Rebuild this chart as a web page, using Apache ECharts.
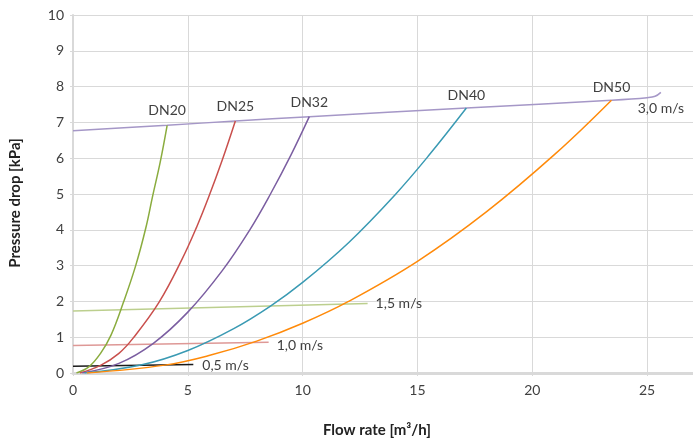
<!DOCTYPE html>
<html><head><meta charset="utf-8">
<script src="https://cdn.jsdelivr.net/npm/echarts@6/dist/echarts.min.js"></script>
<style>html,body{margin:0;padding:0;background:#fff}#c{width:693px;height:443px}</style>
</head><body><div id="c"></div>
<script>
// Pipe curves [flow m3/h, pressure drop kPa]
const dn20 = [[0.15,0],[0.7,0.18],[1.2,0.55],[1.65,1.05],[2.2,1.98],[2.73,3.0],[3.17,4.05],[3.47,4.95],[3.8,5.9],[4.1,6.92]];
const dn25 = [[0.3,0],[1.22,0.22],[2.0,0.55],[2.6,0.96],[3.75,1.98],[4.75,3.18],[5.4,4.1],[5.9,4.9],[6.5,5.95],[7.07,7.04]];
const dn32 = [[0.4,0],[2.0,0.27],[3.5,0.83],[5.0,1.7],[6.5,2.86],[7.7,4.0],[8.6,5.0],[9.5,6.1],[10.29,7.16]];
const dn40 = [[0.5,0],[3.0,0.23],[5.0,0.63],[7.0,1.24],[8.6,1.87],[10.0,2.53],[12.0,3.64],[14.0,4.96],[15.5,6.08],[17.13,7.4]];
const dn50 = [[0.6,0],[4.0,0.22],[6.0,0.5],[8.0,0.89],[10.0,1.39],[12.0,2.0],[15.0,3.12],[18.0,4.5],[21.0,6.12],[23.45,7.62]];
// Velocity lines
const v30 = [[0,6.77],[4.1,6.92],[7.07,7.04],[10.29,7.16],[17.13,7.4],[23.45,7.62],[25.0,7.69],[25.35,7.73],[25.6,7.84]];
const v15 = [[0,1.73],[12.83,1.94]];
const v10 = [[0,0.77],[8.52,0.86]];
const v05 = [[0,0.19],[5.24,0.24]];
const pipeNames = ['DN20','DN25','DN32','DN40','DN50'];
const velNames = ['3,0 m/s','1,5 m/s','1,0 m/s','0,5 m/s'];
const xTicks = [0,5,10,15,20,25];
const yTicks = [0,1,2,3,4,5,6,7,8,9,10];

const FONT = 'Lato';
const TXT = '#404040';
const GRID = '#d9d9d9';

function withLabel(arr, text, lbl){
  return arr.map((p,i)=> i===arr.length-1
    ? {value:p, label:Object.assign({show:true, formatter:text, color:TXT, fontFamily:FONT, fontSize:14}, lbl)}
    : {value:p});
}
function ser(arr, color, text, lbl, z){
  return {type:'line', data:withLabel(arr,text,lbl), smooth:0.4, symbol:'circle', symbolSize:0, showSymbol:true,
    lineStyle:{color:color, width:1.5}, itemStyle:{color:color}, z:z||2, silent:true, animation:false};
}
const series = [
  ser(v30,'#a597c7',velNames[0],{position:'bottom',distance:9},1),
  ser(v15,'#bccf8e',velNames[1],{position:'right',distance:8},1),
  ser(v10,'#de9896',velNames[2],{position:'right',distance:8,offset:[0,3]},1),
  ser(v05,'#1a1a1a',velNames[3],{position:'right',distance:9,offset:[0,1]},1),
  ser(dn20,'#8aac3e',pipeNames[0],{position:'top',distance:8}),
  ser(dn25,'#c9504d',pipeNames[1],{position:'top',distance:7}),
  ser(dn32,'#7b5ea1',pipeNames[2],{position:'top',distance:7}),
  ser(dn40,'#3a9ab3',pipeNames[3],{position:'top',distance:6}),
  ser(dn50,'#ff8a0a',pipeNames[4],{position:'top',distance:6}),
];
const chart = echarts.init(document.getElementById('c'));
chart.setOption({
  animation:false,
  textStyle:{fontFamily:FONT},
  grid:{left:72,right:0,top:15,bottom:66,containLabel:false},
  xAxis:{type:'value',min:xTicks[0],max:27,interval:5,
    name:'Flow rate [m³/h]',nameLocation:'middle',nameGap:50,
    nameTextStyle:{fontFamily:FONT,fontWeight:'bold',fontSize:15,color:'#222',padding:[0,12,0,0]},
    axisLine:{show:true,lineStyle:{color:GRID,width:3}},
    axisTick:{show:true,length:3,lineStyle:{color:GRID}},
    axisLabel:{color:TXT,fontSize:14,fontFamily:FONT,margin:10,showMaxLabel:false,
      formatter:v=> xTicks.indexOf(v)>=0 ? String(v) : ''},
    splitLine:{show:true,lineStyle:{color:GRID,width:1}}},
  yAxis:{type:'value',min:yTicks[0],max:yTicks[yTicks.length-1],interval:1,
    name:'Pressure drop [kPa]',nameLocation:'middle',nameGap:50,
    nameTextStyle:{fontFamily:FONT,fontWeight:'bold',fontSize:15,color:'#222',padding:[0,18,0,0]},
    axisLine:{show:true,lineStyle:{color:GRID,width:2}},
    axisTick:{show:true,length:3,lineStyle:{color:GRID}},
    axisLabel:{color:TXT,fontSize:14,fontFamily:FONT,margin:9},
    splitLine:{show:true,lineStyle:{color:GRID,width:1}}},
  series:series
});
</script></body></html>
